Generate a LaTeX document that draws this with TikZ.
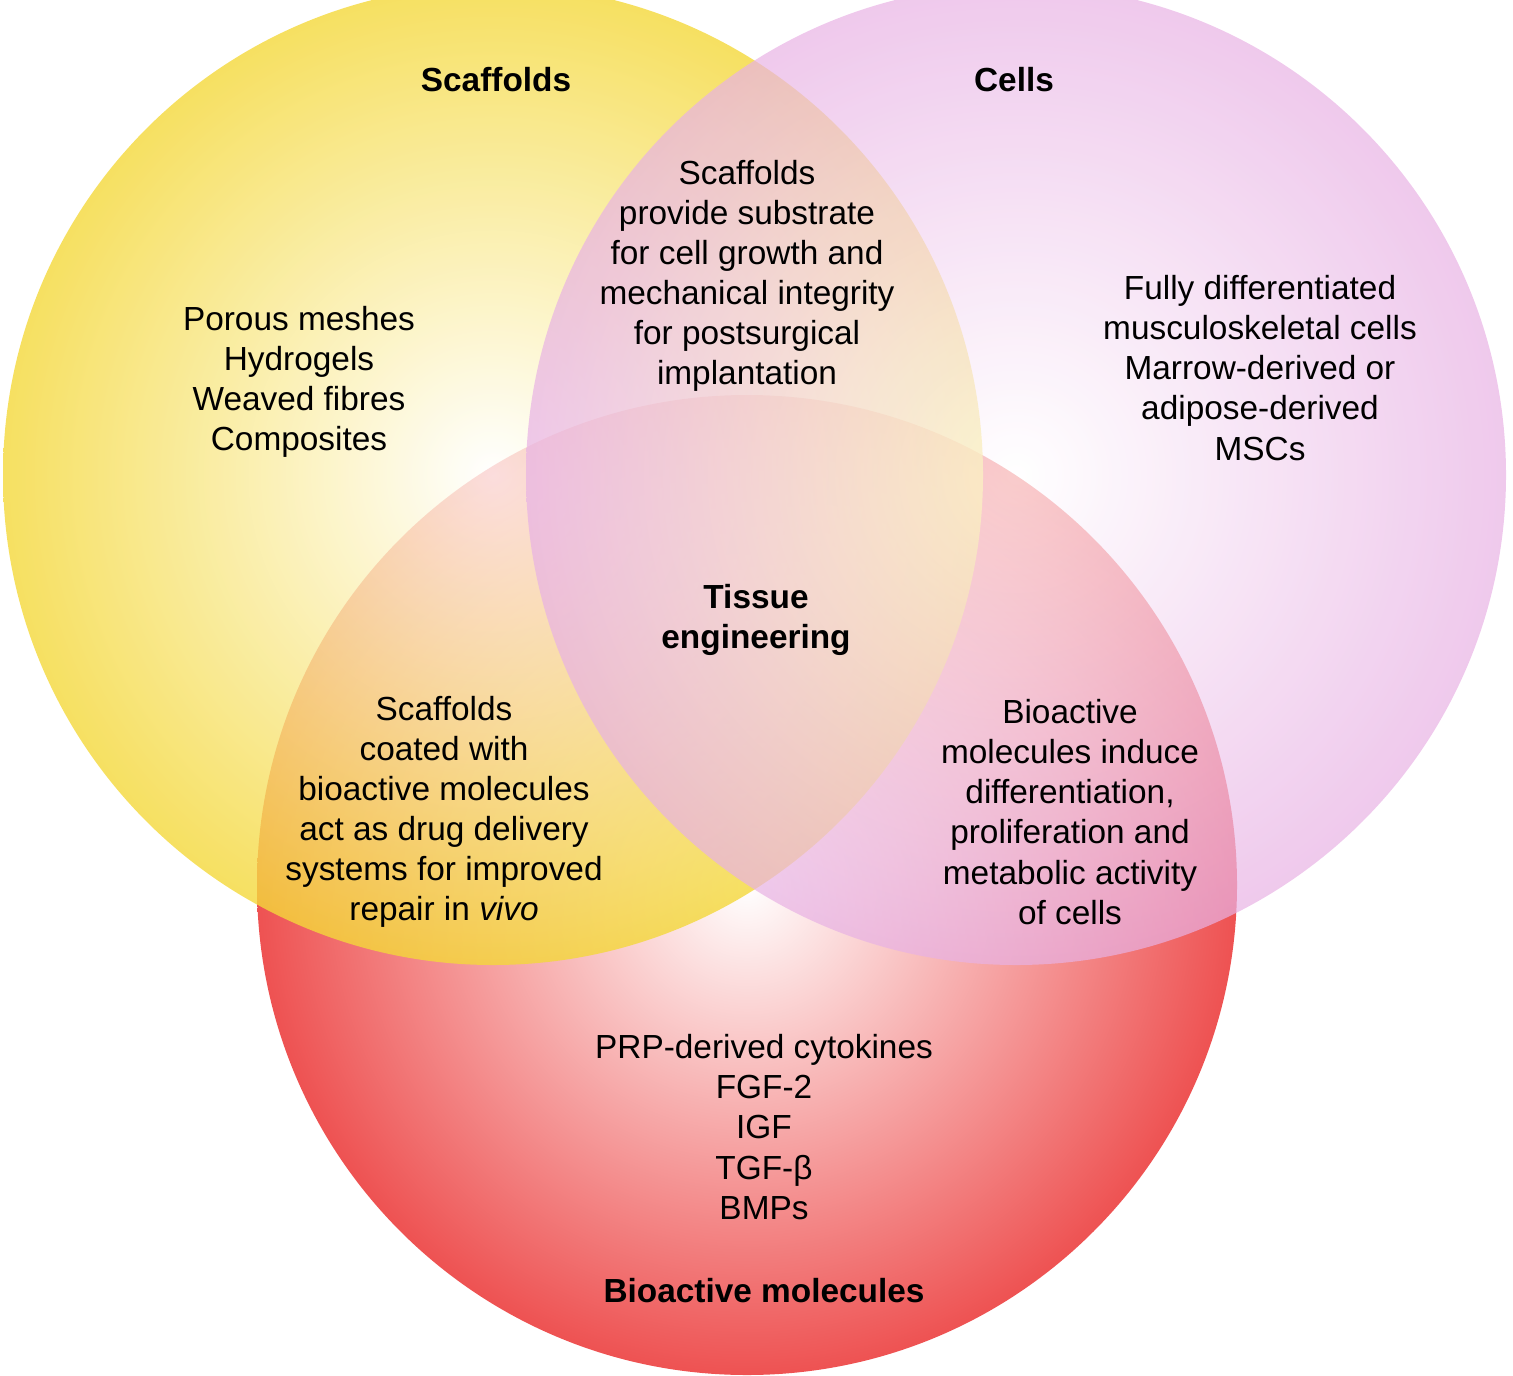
\documentclass[tikz,border=0pt]{standalone}
\usepackage{fontspec}
\setmainfont{Liberation Sans}
\begin{document}
\begin{tikzpicture}[x=0.02cm,y=-0.02cm,
 lab/.style={align=center,font=\fontsize{19}{22.8}\selectfont},
 ttl/.style={align=center,font=\fontsize{19}{22.8}\selectfont\bfseries}]
\useasboundingbox (0,0) rectangle (1513,1375);
\definecolor{yel}{HTML}{F4D83A}
\definecolor{pnk}{HTML}{E8B2E4}
\definecolor{rd}{HTML}{EE5252}
\shade[shading=radial,inner color=white,outer color=rd] (747,885) circle (490);
\shade[shading=radial,inner color=white,outer color=yel,fill opacity=0.8] (493,475) circle (490);
\shade[shading=radial,inner color=white,outer color=pnk,fill opacity=0.7] (1016,475) circle (490);
\node[ttl] (s) at (496,80) {Scaffolds};
\node[ttl] (c) at (1014,80) {Cells};
\node[ttl] (b) at (764,1291) {Bioactive molecules};
\node[ttl] (t) at (756,620) {Tissue\\engineering};
\node[lab] (s1) at (299,382) {Porous meshes\\Hydrogels\\Weaved fibres\\Composites};
\node[lab] (c1) at (1260,368) {Fully differentiated\\musculoskeletal cells\\Marrow-derived or\\adipose-derived\\MSCs};
\node[lab] (sc) at (747,276) {Scaffolds\\provide substrate\\for cell growth and\\mechanical integrity\\for postsurgical\\implantation};
\node[lab] (sb) at (444,812) {Scaffolds\\coated with\\bioactive molecules\\act as drug delivery\\systems for improved\\repair in \textit{vivo}};
\node[lab] (cb) at (1070,812) {Bioactive\\molecules induce\\differentiation,\\proliferation and\\metabolic activity\\of cells};
\node[lab] (b1) at (764,1127) {PRP-derived cytokines\\FGF-2\\IGF\\TGF-β\\BMPs};
\end{tikzpicture}
\end{document}
